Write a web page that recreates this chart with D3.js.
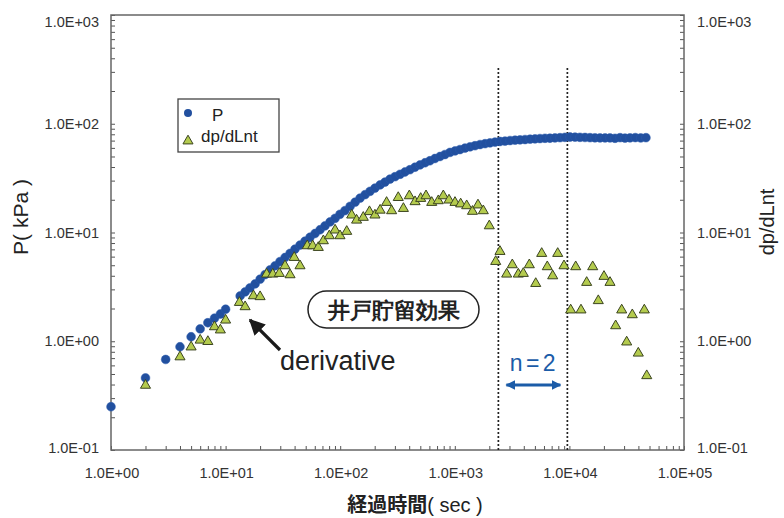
<!DOCTYPE html>
<html><head><meta charset="utf-8">
<script src="https://cdn.jsdelivr.net/npm/d3@7"></script>
<style>
body{margin:0;background:#fff;}
svg{display:block;}
text{font-family:"Liberation Sans",Arial,sans-serif;}
</style>
</head><body>
<svg id="chart" width="784" height="518"></svg>
<script>
// ---- data ----
const pTime = [1,2,3,4,5,6,7,8,9,10,13.4,14.8,16.3,18.1,20,22.1,24.4,27,29.8,33,36.5,40.3,44.6,49.3,54.5,60.3,66.7,73.6,81.5,90.2,99.5,110,122,135,149,165,182,201,223,246,272,301,333,367,406,449,497,550,607,671,743,820,908,1005,1109,1227,1358,1500,1660,1837,2028,2244,2483,2742,3034,3357,3707,4102,4539,5012,5534,6124,6761,7482,8279,9141,10115,11194,12359,13677,15136,16711,18493,20464,22594,25003,27669,30549,33806,37584,41879,46559];
const pValue = [0.25,0.46,0.68,0.89,1.10,1.30,1.48,1.63,1.78,1.97,2.61,2.84,3.09,3.37,3.72,4.10,4.53,4.94,5.40,5.89,6.43,7.03,7.67,8.32,9.04,9.79,10.6,11.5,12.5,13.5,14.7,15.9,17.4,19.0,20.7,22.3,23.9,25.6,27.4,29.1,31.0,32.6,34.3,36.0,37.8,39.8,41.8,43.8,45.7,47.9,50.0,52.1,54.5,56.2,57.9,59.8,61.4,62.8,64.4,65.6,66.7,67.9,68.7,69.3,70.1,70.6,71.1,71.6,72.1,72.6,73.1,73.5,73.6,74.0,74.5,75.0,75.5,75.3,75.0,74.8,74.5,74.3,74.0,74.0,74.0,73.5,74.5,73.8,74.2,74.6,74.0,74.5];
const dTime = [2,4,5,6,7,8,9,10,13.2,14.8,17.5,20,22.8,25.8,29.4,33,36.5,39.7,44.6,51.6,57.5,64.4,71.3,80.4,90.2,99.6,114,126,139,159,180,201,223,254,281,321,356,401,450,504,561,629,718,794,890,1004,1125,1270,1426,1593,1773,2000,2275,2478,2836,3175,3582,3961,4470,5085,5732,6412,7148,7907,8974,10260,11350,12620,14150,15970,17870,20040,22610,25330,28600,31610,35390,39930,45050,47300];
const dValue = [0.40,0.73,0.90,1.04,1.01,1.38,1.29,1.59,2.31,2.11,2.66,2.61,4.21,4.21,4.27,5.02,4.15,5.99,5.02,7.67,7.67,7.40,8.53,9.48,10.7,9.48,10.4,14.7,13.2,14.0,15.8,14.7,16.3,19.2,16.1,21.3,16.9,22.1,19.5,20.9,22.1,19.2,19.9,22.1,20.2,19.2,18.6,17.9,15.9,18.2,16.1,11.7,5.50,6.80,4.21,5.13,4.21,4.27,5.13,3.45,6.52,4.92,4.06,6.52,5.02,1.97,4.92,1.97,3.53,4.92,2.40,4.01,3.53,1.41,1.97,1.00,1.78,0.79,1.97,0.49];
const xTickValues = [1,10,100,1000,10000,100000];
const xTickLabels = ["1.0E+00","1.0E+01","1.0E+02","1.0E+03","1.0E+04","1.0E+05"];
const yTickValues = [0.1,1,10,100,1000];
const yTickLabels = ["1.0E-01","1.0E+00","1.0E+01","1.0E+02","1.0E+03"];
const seriesNames = ["P","dp/dLnt"];
const boundaryTimes = [2400, 9600];
const xTitleKanji = "経過時間", xTitleUnit = "( sec )";
const yTitleLeft = "P( kPa )", yTitleRight = "dp/dLnt";
const noteText = "井戸貯留効果", derivText = "derivative", slopeText = "n = 2";

// ---- layout ----
const L = 111, R = 684, T = 15, B = 450;
const svg = d3.select("#chart");
const x = d3.scaleLog().domain([1, 1e5]).range([L, R]);
const y = d3.scaleLog().domain([0.1, 1000]).range([B, T]);

const blue = "#22509f", triFill = "#b4cb4e", triStroke = "#3b4420", axisCol = "#666", txt = "#333";

// ticks
const yt = y.ticks(), xt = x.ticks();
svg.append("g").attr("transform", `translate(${L},0)`)
  .call(d3.axisLeft(y).tickValues(yt).tickSize(-4).tickFormat(""))
  .call(g => { g.select(".domain").remove(); g.selectAll("line").attr("stroke", "#555"); });
svg.append("g").attr("transform", `translate(${R},0)`)
  .call(d3.axisRight(y).tickValues(yt).tickSize(-4).tickFormat(""))
  .call(g => { g.select(".domain").remove(); g.selectAll("line").attr("stroke", "#555"); });
svg.append("g").attr("transform", `translate(0,${B})`)
  .call(d3.axisBottom(x).tickValues(xt).tickSize(-4).tickFormat(""))
  .call(g => { g.select(".domain").remove(); g.selectAll("line").attr("stroke", "#555"); });

// frame
svg.append("rect").attr("x", L).attr("y", T).attr("width", R - L).attr("height", B - T)
  .attr("fill", "none").attr("stroke", axisCol).attr("stroke-width", 1.5);

// tick labels
const clampY = v => Math.max(T + 6.5, Math.min(B - 2, y(v)));
svg.append("g").selectAll("text").data(yTickValues).join("text")
  .attr("x", L - 12).attr("y", d => clampY(d)).attr("dy", "0.36em")
  .attr("text-anchor", "end").attr("font-size", 14.5).attr("fill", txt)
  .text((d, i) => yTickLabels[i]);
svg.append("g").selectAll("text").data(yTickValues).join("text")
  .attr("x", R + 13).attr("y", d => clampY(d)).attr("dy", "0.36em")
  .attr("text-anchor", "start").attr("font-size", 14.5).attr("fill", txt)
  .text((d, i) => yTickLabels[i]);
svg.append("g").selectAll("text").data(xTickValues).join("text")
  .attr("x", d => x(d) + 1).attr("y", B + 23).attr("dy", "0.36em")
  .attr("text-anchor", "middle").attr("font-size", 14.5).attr("fill", txt)
  .text((d, i) => xTickLabels[i]);

// axis titles
const xt1 = svg.append("text").attr("x", 415).attr("y", 505).attr("dy", "0.36em")
  .attr("text-anchor", "middle").attr("fill", "#222").attr("font-size", 20);
xt1.append("tspan").attr("font-family", "'Noto Sans CJK JP'").attr("font-weight", "bold").text(xTitleKanji);
xt1.append("tspan").text(xTitleUnit);
svg.append("text").attr("transform", "translate(20,217) rotate(-90)").attr("dy", "0.36em")
  .attr("text-anchor", "middle").attr("font-size", 21).attr("fill", "#222").text(yTitleLeft);
svg.append("text").attr("transform", "translate(767,222) rotate(-90)").attr("dy", "0.36em")
  .attr("text-anchor", "middle").attr("font-size", 20).attr("fill", "#222").text(yTitleRight);

// boundary dashed lines
svg.append("g").selectAll("line").data(boundaryTimes).join("line")
  .attr("x1", d => x(d)).attr("x2", d => x(d)).attr("y1", 68).attr("y2", B)
  .attr("stroke", "#222").attr("stroke-width", 1.7).attr("stroke-dasharray", "2,2");

// P points
const pData = d3.zip(pTime, pValue);
svg.append("g").selectAll("circle").data(pData).join("circle")
  .attr("cx", d => x(d[0])).attr("cy", d => y(d[1])).attr("r", 4.4)
  .attr("fill", blue).attr("stroke", "#2d5cae").attr("stroke-width", 0.5);

// derivative points
const tri = d3.symbol().type(d3.symbolTriangle).size(44);
const dData = d3.zip(dTime, dValue);
svg.append("g").selectAll("path").data(dData).join("path")
  .attr("transform", d => `translate(${x(d[0])},${y(d[1]) + 0.8})`).attr("d", tri)
  .attr("fill", triFill).attr("stroke", triStroke).attr("stroke-width", 1);

// legend
const lg = svg.append("g");
lg.append("rect").attr("x", 178).attr("y", 99).attr("width", 101).attr("height", 53)
  .attr("fill", "#fff").attr("stroke", "#444").attr("stroke-width", 1.3);
lg.append("circle").attr("cx", 188).attr("cy", 113).attr("r", 4).attr("fill", blue);
lg.append("path").attr("transform", "translate(188,141)").attr("d", tri)
  .attr("fill", triFill).attr("stroke", triStroke);
lg.append("text").attr("x", 212).attr("y", 115).attr("dy", "0.36em").attr("font-size", 17).attr("fill", "#222").text(seriesNames[0]);
lg.append("text").attr("x", 201).attr("y", 136).attr("dy", "0.36em").attr("font-size", 17).attr("fill", "#222").text(seriesNames[1]);

// note: 井戸貯留効果
svg.append("rect").attr("x", 308).attr("y", 291).attr("width", 171).attr("height", 37).attr("rx", 18.5)
  .attr("fill", "#fff").attr("stroke", "#222").attr("stroke-width", 1.5);
svg.append("text").attr("x", 393.5).attr("y", 310).attr("dy", "0.36em").attr("text-anchor", "middle")
  .attr("font-family", "'Noto Sans CJK JP'").attr("font-weight", "bold").attr("font-size", 22)
  .attr("fill", "#222").text(noteText);

// derivative arrow + label
const defs = svg.append("defs");
defs.append("marker").attr("id", "blk").attr("viewBox", "0 0 10 10").attr("refX", 9).attr("refY", 5)
  .attr("markerWidth", 5).attr("markerHeight", 5).attr("orient", "auto-start-reverse")
  .append("path").attr("d", "M0,0L10,5L0,10z").attr("fill", "#1a1a1a");
svg.append("line").attr("x1", 280).attr("y1", 350).attr("x2", 250).attr("y2", 320)
  .attr("stroke", "#1a1a1a").attr("stroke-width", 3.2).attr("marker-end", "url(#blk)");
svg.append("text").attr("x", 280).attr("y", 370).attr("font-size", 27).attr("fill", "#222").text(derivText);

// n = 2 arrow
defs.append("marker").attr("id", "blu").attr("viewBox", "0 0 10 10").attr("refX", 9).attr("refY", 5)
  .attr("markerWidth", 3.2).attr("markerHeight", 3.2).attr("orient", "auto-start-reverse")
  .append("path").attr("d", "M0,0L10,5L0,10z").attr("fill", "#1b5ca8");
svg.append("line").attr("x1", x(boundaryTimes[0]) + 8).attr("x2", x(boundaryTimes[1]) - 7)
  .attr("y1", 385).attr("y2", 385).attr("stroke", "#1b5ca8").attr("stroke-width", 3)
  .attr("marker-start", "url(#blu)").attr("marker-end", "url(#blu)");
svg.append("text").attr("x", 532).attr("y", 363).attr("dy", "0.36em").attr("text-anchor", "middle")
  .attr("font-size", 23).attr("letter-spacing", -1.5).attr("fill", "#1b5ca8").text(slopeText);
</script>
</body></html>
